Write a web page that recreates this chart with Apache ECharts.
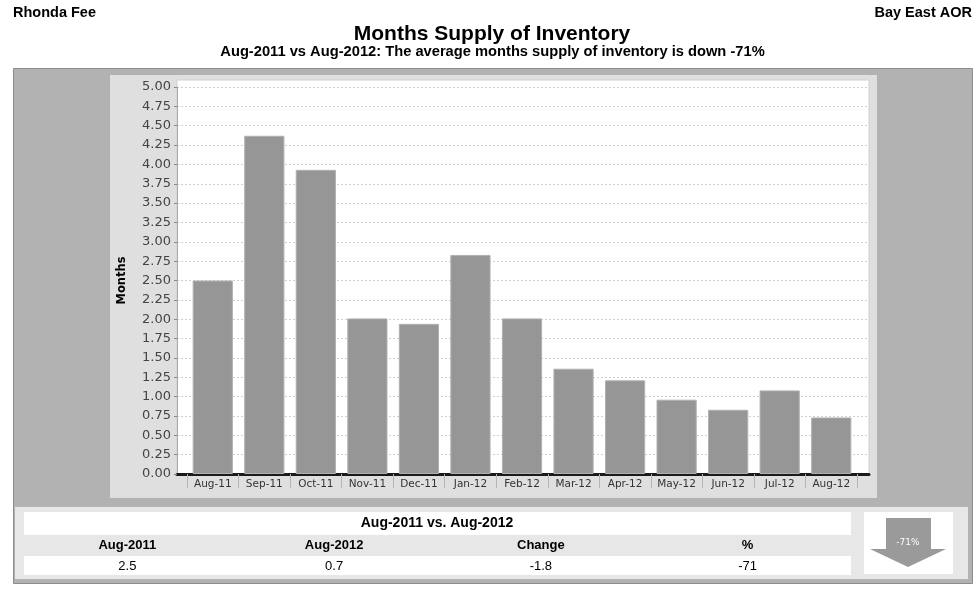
<!DOCTYPE html>
<html>
<head>
<meta charset="utf-8">
<script src="https://cdn.jsdelivr.net/npm/echarts@6/dist/echarts.min.js"></script>
<style>
html,body{margin:0;padding:0;background:#fff;}
#chart{width:980px;height:589px;}
</style>
</head>
<body>
<div id="chart"></div>
<script>
// ---- data ----
var categories = ['Aug-11','Sep-11','Oct-11','Nov-11','Dec-11','Jan-12','Feb-12','Mar-12','Apr-12','May-12','Jun-12','Jul-12','Aug-12'];
var monthsSupply = [2.5, 4.37, 3.93, 2.01, 1.94, 2.83, 2.01, 1.36, 1.21, 0.96, 0.83, 1.08, 0.73];
var yTicks = {min: 0, max: 5, interval: 0.25};
var tableTitle = 'Aug-2011 vs. Aug-2012';
var tableHeaders = ['Aug-2011', 'Aug-2012', 'Change', '%'];
var tableValues = ['2.5', '0.7', '-1.8', '-71'];
var arrowLabel = '-71%';
var headerLeft = 'Rhonda Fee';
var headerRight = 'Bay East AOR';
var chartTitle = 'Months Supply of Inventory';
var chartSubtitle = 'Aug-2011 vs Aug-2012: The average months supply of inventory is down -71%';

var chart = echarts.init(document.getElementById('chart'), null, {renderer: 'canvas'});

var sans = '"Liberation Sans", Arial, sans-serif';
var tickFont = '"DejaVu Sans", sans-serif';

var graphics = [
  // outer gray box
  {type:'rect', z:-100, shape:{x:13.5, y:68.5, width:959, height:515}, style:{fill:'#b2b2b2', stroke:'#8c8c8c', lineWidth:1}},
  // chart panel
  {type:'rect', z:-99, shape:{x:110, y:75, width:767, height:423}, style:{fill:'#dfdfdf'}},
  // plot white area
  {type:'rect', z:-98, shape:{x:177, y:80, width:692, height:394}, style:{fill:'#ffffff', stroke:'#d0d0d0', lineWidth:1}},
  // table panel
  {type:'rect', z:-99, shape:{x:15, y:507, width:953, height:72}, style:{fill:'#e7e7e7'}},
  {type:'rect', z:-98, shape:{x:24, y:512, width:827, height:23}, style:{fill:'#ffffff'}},
  {type:'rect', z:-98, shape:{x:24, y:556, width:827, height:19}, style:{fill:'#ffffff'}},
  {type:'rect', z:-98, shape:{x:864, y:512, width:89, height:62}, style:{fill:'#ffffff'}},
  // arrow
  {type:'polygon', z:-97, shape:{points:[[886,518],[931,518],[931,549],[946,549],[908,567],[870,549],[886,549]]}, style:{fill:'#9a9a9a'}},
  {type:'text', z:-96, x:908, y:543, style:{text:arrowLabel, fill:'#ffffff', font:'9px "DejaVu Sans", sans-serif', textAlign:'center', textVerticalAlign:'middle'}},
  // headers
  {type:'text', x:13, y:13, style:{text:headerLeft, fill:'#000', font:'bold 14.5px '+sans, textAlign:'left', textVerticalAlign:'middle'}},
  {type:'text', x:972, y:13, style:{text:headerRight, fill:'#000', font:'bold 14.5px '+sans, textAlign:'right', textVerticalAlign:'middle'}},
  {type:'text', x:492, y:34, style:{text:chartTitle, fill:'#000', font:'bold 21px '+sans, textAlign:'center', textVerticalAlign:'middle'}},
  {type:'text', x:492.5, y:52, style:{text:chartSubtitle, fill:'#000', font:'bold 14.7px '+sans, textAlign:'center', textVerticalAlign:'middle'}},
  // table title
  {type:'text', x:437, y:523.5, style:{text:tableTitle, fill:'#000', font:'bold 14px '+sans, textAlign:'center', textVerticalAlign:'middle'}}
];
var colW = 827 / tableHeaders.length;
for (var i = 0; i < tableHeaders.length; i++) {
  var cx = 24 + colW * (i + 0.5);
  graphics.push({type:'text', x:cx, y:545.5, style:{text:tableHeaders[i], fill:'#000', font:'bold 13px '+sans, textAlign:'center', textVerticalAlign:'middle'}});
  graphics.push({type:'text', x:cx, y:566, style:{text:tableValues[i], fill:'#000', font:'13px '+sans, textAlign:'center', textVerticalAlign:'middle'}});
}

var option = {
  animation: false,
  backgroundColor: '#ffffff',
  graphic: graphics,
  grid: [
    {left: 187, right: 123, top: 87, bottom: 115},
    {left: 177, right: 111, top: 87, bottom: 115}
  ],
  xAxis: [
    {
      type: 'category', gridIndex: 0, data: categories,
      boundaryGap: true,
      axisLine: {show: false},
      axisTick: {show: true, alignWithLabel: false, length: 14, lineStyle: {color: '#b5b5b5', width: 1}},
      axisLabel: {margin: 5, fontSize: 10.5, fontFamily: tickFont, color: '#333'},
      splitLine: {show: false}
    },
    {
      type: 'value', gridIndex: 1, min: 0, max: 1,
      axisLine: {show: true, onZero: false, lineStyle: {color: '#1a1a1a', width: 3}},
      axisTick: {show: false}, axisLabel: {show: false}, splitLine: {show: false}
    }
  ],
  yAxis: [
    {
      type: 'value', gridIndex: 0, min: yTicks.min, max: yTicks.max, interval: yTicks.interval,
      show: false, splitLine: {show: false}
    },
    {
      type: 'value', gridIndex: 1, min: yTicks.min, max: yTicks.max, interval: yTicks.interval,
      name: 'Months', nameLocation: 'middle', nameGap: 49, nameRotate: 90,
      nameTextStyle: {fontSize: 11.5, fontWeight: 'bold', fontFamily: tickFont, color: '#000'},
      axisLine: {show: true, lineStyle: {color: '#aaaaaa', width: 1}},
      axisTick: {show: true, length: 3, lineStyle: {color: '#888'}},
      axisLabel: {margin: 6, fontSize: 13, fontFamily: tickFont, color: '#444',
        formatter: function (v) { return v.toFixed(2); }},
      splitLine: {show: true, lineStyle: {color: '#cfcfcf', type: [2, 2], width: 1}}
    }
  ],
  series: [
    {
      type: 'bar', xAxisIndex: 0, yAxisIndex: 0,
      data: monthsSupply,
      barCategoryGap: '22%',
      itemStyle: {color: '#969696', borderColor: '#b0b0b0', borderWidth: 1},
      z: 3
    }
  ]
};
chart.setOption(option);
</script>
</body>
</html>
